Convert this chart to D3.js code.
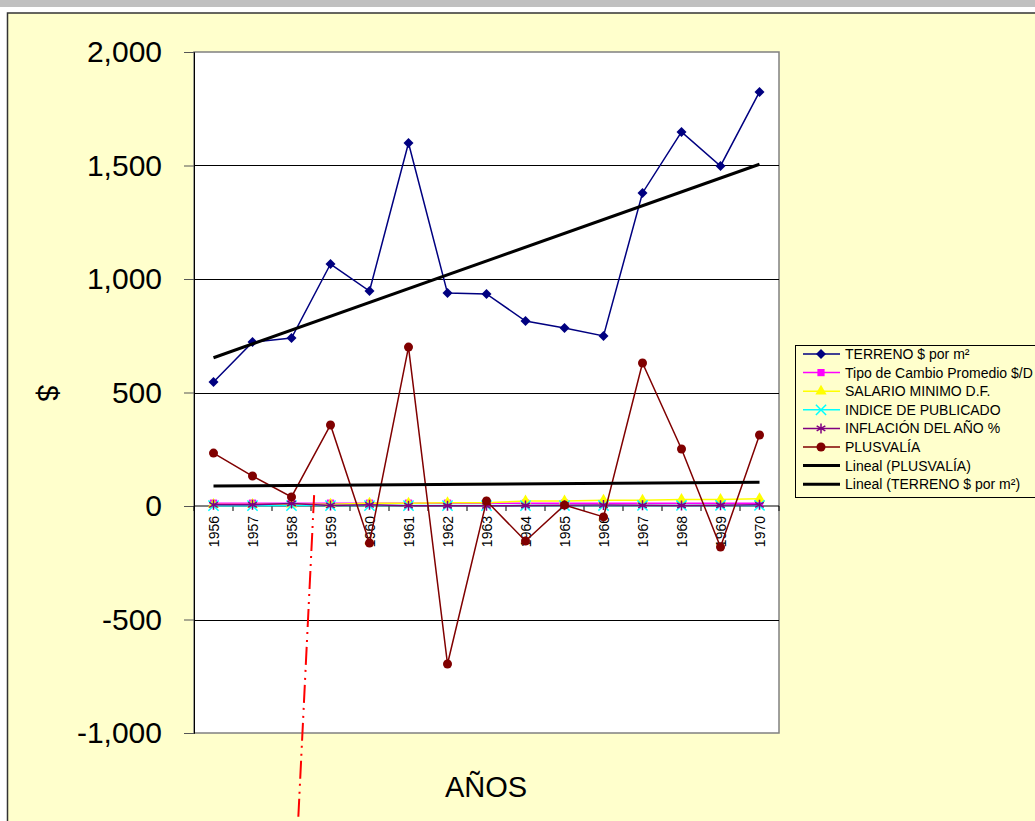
<!DOCTYPE html>
<html><head><meta charset="utf-8">
<script src="https://cdn.jsdelivr.net/npm/d3@7"></script>
<style>body{margin:0;background:#fff;} svg{display:block;font-family:"Liberation Sans",Arial,sans-serif;}</style>
</head><body>
<svg id="c" width="1035" height="821"></svg>
<script>
const years = ["1956","1957","1958","1959","1960","1961","1962","1963","1964","1965","1966","1967","1968","1969","1970"];
const terreno = [546,722,740,1066,947,1599,938,934,815,784,749,1379,1648,1498,1824];
const tipoCambio = [12.5,12.5,12.5,12.5,12.5,12.5,12.5,12.5,12.5,12.5,12.5,12.5,12.5,12.5,12.5];
const salario = [6.7,6.7,8,8,12,12,14.5,14.5,21.5,21.5,25,25,28.25,28.25,32];
const indice = [1.5,1.6,1.8,1.8,1.9,1.9,2.0,2.0,2.0,2.1,2.2,2.3,2.3,2.4,2.5];
const inflacion = [5,5.5,11,2.4,5,1.6,1.2,0.6,2.3,3.6,4.2,3,2.3,3.4,5.2];
const plusvalia = [233,132,40,357,-163,700,-696,22,-154,4,-48,630,251,-181,313];
const yTicks = [-1000,-500,0,500,1000,1500,2000];
const legendLabels = ["TERRENO $ por m²","Tipo de Cambio Promedio $/D","SALARIO MINIMO D.F.","INDICE DE PUBLICADO","INFLACIÓN DEL AÑO %","PLUSVALÍA","Lineal (PLUSVALÍA)","Lineal (TERRENO $ por m²)"];
// annotation line (data coords: category index, value)
const annotation = [[2.58,48],[2.17,-1388]];

const svg = d3.select("#c");
const W=1035,H=821;
const L=194,R=779,T=52,B=733;

// frame
svg.append("rect").attr("x",0).attr("y",0).attr("width",W).attr("height",7).attr("fill","#c0c0c0");
svg.append("rect").attr("x",7.5).attr("y",13).attr("width",W).attr("height",H).attr("fill","#ffffcc").attr("stroke","#333").attr("stroke-width",1.5);

const x = d3.scaleBand().domain(years).range([L,R]).paddingInner(0).paddingOuter(0);
const xc = d => x(d)+x.bandwidth()/2;
const xi = d3.scaleLinear().domain([0,years.length-1]).range([xc(years[0]),xc(years[years.length-1])]);
const y = d3.scaleLinear().domain([-1000,2000]).range([B,T]);

// plot area
svg.append("rect").attr("x",L).attr("y",T).attr("width",R-L).attr("height",B-T).attr("fill","#fff").attr("stroke","#808080").attr("stroke-width",1.5);

// grid
svg.append("g").selectAll("line").data(yTicks.filter(v=>v!==0 && v!==2000 && v!==-1000)).join("line")
  .attr("x1",L).attr("x2",R).attr("y1",d=>Math.round(y(d))+0.5).attr("y2",d=>Math.round(y(d))+0.5)
  .attr("stroke","#000").attr("stroke-width",1);

// y axis
const loc = d3.formatLocale({decimal:".",thousands:",",grouping:[3],currency:["$",""],minus:"-"});
const ya = svg.append("g").attr("transform",`translate(${L},0)`)
  .call(d3.axisLeft(y).tickValues(yTicks).tickSize(10).tickPadding(22).tickFormat(loc.format(",")));
ya.select(".domain").attr("stroke","#000");
ya.selectAll("text").attr("font-size",30).attr("font-family","Liberation Sans, Arial").attr("fill","#000");
ya.selectAll(".tick line").attr("stroke","#555");

// x axis at zero
const xa = svg.append("g").attr("transform",`translate(0,${y(0)})`);
xa.append("line").attr("x1",L).attr("x2",R).attr("stroke","#000");
xa.selectAll("line.t").data(d3.range(years.length+1)).join("line").attr("class","t")
  .attr("x1",i=>L+i*x.bandwidth()).attr("x2",i=>L+i*x.bandwidth()).attr("y1",0).attr("y2",5).attr("stroke","#000");
xa.selectAll("text").data(years).join("text")
  .attr("transform",d=>`translate(${xc(d)+5},10) rotate(-90)`)
  .attr("text-anchor","end").attr("font-size",14).text(d=>d);

// series
const line = d3.line().x((d,i)=>xc(years[i])).y(d=>y(d));
const series = [
  {v:terreno,c:"#000080",sym:"diamond"},
  {v:tipoCambio,c:"#ff00ff",sym:"square"},
  {v:salario,c:"#ffff00",sym:"triangle"},
  {v:indice,c:"#00ffff",sym:"x"},
  {v:inflacion,c:"#800080",sym:"asterisk"},
  {v:plusvalia,c:"#800000",sym:"circle"}
];
function drawSym(g,sym,c,cx,cy){
  if(sym==="diamond") g.append("path").attr("d",d3.symbol(d3.symbolSquare,50)()).attr("transform",`translate(${cx},${cy}) rotate(45)`).attr("fill",c);
  else if(sym==="square") g.append("path").attr("d",d3.symbol(d3.symbolSquare,52)()).attr("transform",`translate(${cx},${cy})`).attr("fill",c);
  else if(sym==="triangle") g.append("path").attr("d",d3.symbol(d3.symbolTriangle,55)()).attr("transform",`translate(${cx},${cy})`).attr("fill",c);
  else if(sym==="circle") g.append("path").attr("d",d3.symbol(d3.symbolCircle,64)()).attr("transform",`translate(${cx},${cy})`).attr("fill",c);
  else if(sym==="x") g.append("path").attr("d",d3.symbol(d3.symbolX,70)()).attr("transform",`translate(${cx},${cy})`).attr("fill","none").attr("stroke",c).attr("stroke-width",1.5);
  else if(sym==="asterisk") g.append("path").attr("d",d3.symbol(d3.symbolAsterisk,70)()).attr("transform",`translate(${cx},${cy})`).attr("fill","none").attr("stroke",c).attr("stroke-width",1.5);
}
series.forEach(s=>{
  const g = svg.append("g");
  g.append("path").datum(s.v).attr("d",line).attr("fill","none").attr("stroke",s.c).attr("stroke-width",1.5);
  s.v.forEach((v,i)=>drawSym(g,s.sym,s.c,xc(years[i]),y(v)));
});

// linear trends
function reg(vals){
  const n=vals.length, mx=(n-1)/2, my=d3.mean(vals);
  let sxy=0,sxx=0; vals.forEach((v,i)=>{sxy+=(i-mx)*(v-my); sxx+=(i-mx)*(i-mx);});
  const b=sxy/sxx, a=my-b*mx; return [a, a+b*(n-1)];
}
[plusvalia,terreno].forEach(v=>{
  const r=reg(v);
  svg.append("line").attr("x1",xi(0)).attr("x2",xi(v.length-1)).attr("y1",y(r[0])).attr("y2",y(r[1]))
    .attr("stroke","#000").attr("stroke-width",3);
});

// annotation
svg.append("line").attr("x1",xi(annotation[0][0])).attr("y1",y(annotation[0][1]))
  .attr("x2",xi(annotation[1][0])).attr("y2",y(annotation[1][1]))
  .attr("stroke","#ff0000").attr("stroke-width",2).attr("stroke-dasharray","18,5,2,6,2,5");

// axis titles
svg.append("text").attr("transform","translate(38,393) rotate(90)").attr("text-anchor","middle").attr("font-size",29).text("$");
svg.append("text").attr("x",486).attr("y",797).attr("text-anchor","middle").attr("font-size",29).text("AÑOS");

// legend
const lg = svg.append("g");
lg.append("rect").attr("x",795.5).attr("y",345.5).attr("width",260).attr("height",152).attr("fill","#ffffcc").attr("stroke","#000").attr("stroke-width",1);
const lSym = ["diamond","square","triangle","x","asterisk","circle",null,null];
const lCol = ["#000080","#ff00ff","#ffff00","#00ffff","#800080","#800000","#000","#000"];
legendLabels.forEach((t,i)=>{
  const cy = 354+i*18.6;
  lg.append("line").attr("x1",803).attr("x2",840).attr("y1",cy).attr("y2",cy).attr("stroke",lCol[i]).attr("stroke-width",i>=6?3:1.5);
  if(lSym[i]) drawSym(lg,lSym[i],lCol[i],821,cy);
  lg.append("text").attr("x",845).attr("y",cy+5).attr("font-size",14).attr("fill","#000").text(t);
});
</script>
</body></html>
